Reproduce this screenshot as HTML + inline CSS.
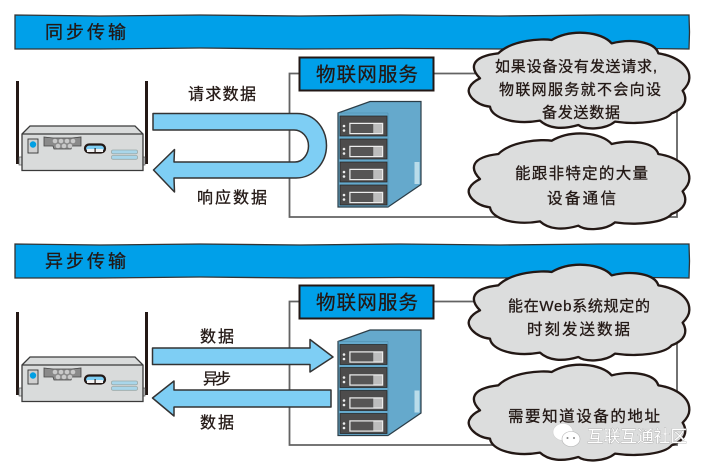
<!DOCTYPE html>
<html><head><meta charset="utf-8">
<style>
html,body{margin:0;padding:0;background:#fff;width:710px;height:468px;overflow:hidden}
svg{display:block}
text{font-family:"Liberation Sans","Noto Sans CJK SC",sans-serif;fill:#231815;stroke:#231815;stroke-width:.3px}
</style></head>
<body>
<svg width="710" height="468" viewBox="0 0 710 468" xmlns="http://www.w3.org/2000/svg">
<defs>
<g id="router">
  <rect x="16" y="81" width="3" height="83" fill="#231815"/>
  <rect x="145" y="81" width="3" height="83" fill="#231815"/>
  <rect x="19" y="157" width="4" height="8" fill="#d9dbdb" stroke="#555" stroke-width=".7"/>
  <rect x="142" y="157" width="3" height="8" fill="#d9dbdb" stroke="#555" stroke-width=".7"/>
  <path d="M22,134 L30,126 L135,126 L143,134 L143,170.5 L22,170.5 Z" fill="#d9dbdb" stroke="#3a3a3a" stroke-width="1.3"/>
  <path d="M22,134 L143,134" stroke="#3a3a3a" stroke-width="1.2" fill="none"/>
  <rect x="28" y="139" width="10" height="14" fill="#d0d0d0" stroke="#333" stroke-width=".9"/>
  <circle cx="33" cy="144.500" r="3.200" fill="#009fe3"/>
  <path d="M44,137 L53,138 L72,138 L81,137 L81,146 L72,146 L71,149 L54,149 L53,146 L44,146 Z" fill="#8a8a8a" stroke="#444" stroke-width=".8"/>
  <g fill="#c9c9c9"><circle cx="55" cy="141" r="2.300"/><circle cx="61" cy="141" r="2.300"/><circle cx="67" cy="141" r="2.300"/><circle cx="73" cy="141" r="2.300"/><circle cx="58" cy="146" r="2.300"/><circle cx="64" cy="146" r="2.300"/><circle cx="70" cy="146" r="2.300"/></g>
  <rect x="85" y="144.500" width="20" height="8" rx="4" fill="#7ecef4" stroke="#231815" stroke-width="2.200"/>
  <rect x="87" y="149" width="16" height="3" fill="#f2f2f2"/>
  <rect x="94.500" y="148" width="1.200" height="4" fill="#231815"/>
  <rect x="111.500" y="150" width="26" height="3.800" rx="1.500" fill="#a9d6ea" stroke="#9aa" stroke-width=".8"/>
  <rect x="111.500" y="155.500" width="26" height="3.800" rx="1.500" fill="#a9d6ea" stroke="#9aa" stroke-width=".8"/>
</g>
<g id="slot">
  <rect x="340" y="0" width="47" height="20" fill="#4d4c4c" stroke="#222" stroke-width=".7"/>
  <rect x="349.500" y="7" width="33.500" height="11" fill="#f2f2f2" stroke="#ddd" stroke-width=".5"/>
  <rect x="350.500" y="8" width="23" height="9" fill="#565555"/>
  <rect x="374" y="8" width="8" height="9" fill="#bdbdbd"/>
  <circle cx="344" cy="10" r="1.300" fill="#eee"/><circle cx="344" cy="14.500" r="1.300" fill="#eee"/>
</g>
<g id="server">
  <path d="M338,113 L370,101.500 L421,101.500 L421,184.500 L388,207 L338,207 Z" fill="#65a9cc" stroke="#2b3d47" stroke-width="1.200"/>
  <path d="M338,113 L388,113 L388,207" fill="none" stroke="#4d89a8" stroke-width=".5"/>
  <rect x="414.500" y="162" width="5" height="22" fill="#b9dcea"/>
  <use href="#slot" y="116"/><use href="#slot" y="139"/><use href="#slot" y="162"/><use href="#slot" y="185"/>
</g>
<g id="cloud">
  <path transform="translate(355,0) scale(.3333)" d="M375,235 C345,205 345,170 430,160 C470,120 560,115 590,120 C650,85 740,95 770,130 C830,115 900,125 910,160 C970,170 1005,200 1003,235 C1003,250 990,265 983,272 C1000,300 990,325 950,340 C930,365 850,375 780,365 C750,390 690,390 670,375 C620,390 580,385 555,362 C480,375 410,355 405,320 C360,315 330,280 345,260 C350,250 365,240 375,235 Z" fill="#dcdddd" stroke="#231815" stroke-width="7" stroke-linejoin="round"/>
</g>
</defs>

<!-- banners -->
<path d="M15,15 L100,16 L200,15 L300,16 L400,15 L500,16 L600,15 L689,15 L689.500,32 L689,49 L600,48 L500,49 L400,48.500 L300,49 L200,48 L100,49 L15,49 Z" fill="#00a0e9" stroke="#333" stroke-width="1.300"/>
<path d="M15,244 L100,245 L200,244 L300,245 L400,244 L500,245 L600,244 L689,244 L689.500,261 L689,278 L600,277 L500,278 L400,277.500 L300,278 L200,277 L100,278 L15,278 Z" fill="#00a0e9" stroke="#333" stroke-width="1.300"/>

<!-- frames -->
<path d="M299,73.500 L289.500,73.500 L289.500,217 L677,217 L677,100 M434,73.500 L480,73.500" fill="none" stroke="#636363" stroke-width="1.800"/>
<path d="M299,301.500 L289.500,301.500 L289.500,445 L677,445 L677,330 M434,301.500 L480,301.500" fill="none" stroke="#636363" stroke-width="1.800"/>

<!-- label boxes -->
<rect x="299.500" y="57.500" width="134" height="33" fill="#00a0e9" stroke="#231815" stroke-width="2"/>
<rect x="299.500" y="285.500" width="134" height="33" fill="#00a0e9" stroke="#231815" stroke-width="2"/>

<!-- routers -->
<use href="#router"/>
<use href="#router" y="231"/>

<!-- servers -->
<use href="#server"/>
<use href="#server" y="228.500"/>

<!-- arrows -->
<path d="M153,113.500 L297,113.500 C316,113.500 326.500,130 326.500,145.500 C326.500,162 314,178 296,178 L174,178 L174.500,192 L153.500,170 L174.500,149.500 L174,162 L295,162 C303,162 308.500,154 308.500,146 C308.500,137 302,130 294,130 L153,130 Z" fill="#7ecef4" stroke="#333" stroke-width="1.500" stroke-linejoin="round"/>
<path d="M152.500,348 L310,348 L310,339.500 L333,357 L310,372 L310,364.500 L152.500,364.500 Z" fill="#7ecef4" stroke="#333" stroke-width="1.500" stroke-linejoin="round"/>
<path d="M331,390 L174,390 L174,381 L152.500,398 L174,416 L174,407 L331,407 Z" fill="#7ecef4" stroke="#333" stroke-width="1.500" stroke-linejoin="round"/>

<!-- clouds -->
<use href="#cloud"/>
<use href="#cloud" y="100.700"/>
<use href="#cloud" y="-2" transform="translate(0,234)"/>
<use href="#cloud" y="98" transform="translate(0,234)"/>

<!-- text -->
<text x="45" y="38.500" font-size="18" textLength="81">同步传输</text>
<text x="45" y="267.500" font-size="18" textLength="81">异步传输</text>
<text x="316" y="81" font-size="19.500" textLength="102">物联网服务</text>
<text x="316" y="309" font-size="19.500" textLength="102">物联网服务</text>
<text x="188" y="99.500" font-size="16" textLength="68">请求数据</text>
<text x="197" y="203" font-size="16" textLength="70">响应数据</text>
<text x="200" y="342" font-size="16" textLength="34">数据</text>
<text x="203" y="384" font-size="15.500" textLength="28">异步</text>
<text x="200" y="428" font-size="16" textLength="34">数据</text>
<text x="495" y="71.500" font-size="15" textLength="162">如果设备没有发送请求,</text>
<text x="499" y="94.500" font-size="15" textLength="162">物联网服务就不会向设</text>
<text x="542" y="117.500" font-size="15" textLength="78">备发送数据</text>
<text x="515" y="178.500" font-size="15.500" textLength="133">能跟非特定的大量</text>
<text x="547" y="203.500" font-size="15.500" textLength="69">设备通信</text>
<text x="508" y="311" font-size="15" textLength="142">能在Web系统规定的</text>
<text x="527" y="334.500" font-size="15.500" textLength="103">时刻发送数据</text>
<text x="508" y="421.500" font-size="15.500" textLength="152">需要知道设备的地址</text>

<!-- watermark -->
<g>
  <ellipse cx="563" cy="432" rx="10" ry="8.500" fill="#fff" stroke="#d2d2d2" stroke-width=".6"/>
  <ellipse cx="571" cy="439" rx="9" ry="7.500" fill="#fff" stroke="#b5b5b5" stroke-width=".6"/>
  <circle cx="567.500" cy="438" r="1" fill="#888"/><circle cx="574" cy="438" r="1" fill="#888"/>
  <text x="587" y="442" font-size="16.500" textLength="100" style="fill:#fff;paint-order:stroke;stroke:#a8a8a8;stroke-width:.7px">互联互通社区</text>
</g>
</svg>
</body></html>
